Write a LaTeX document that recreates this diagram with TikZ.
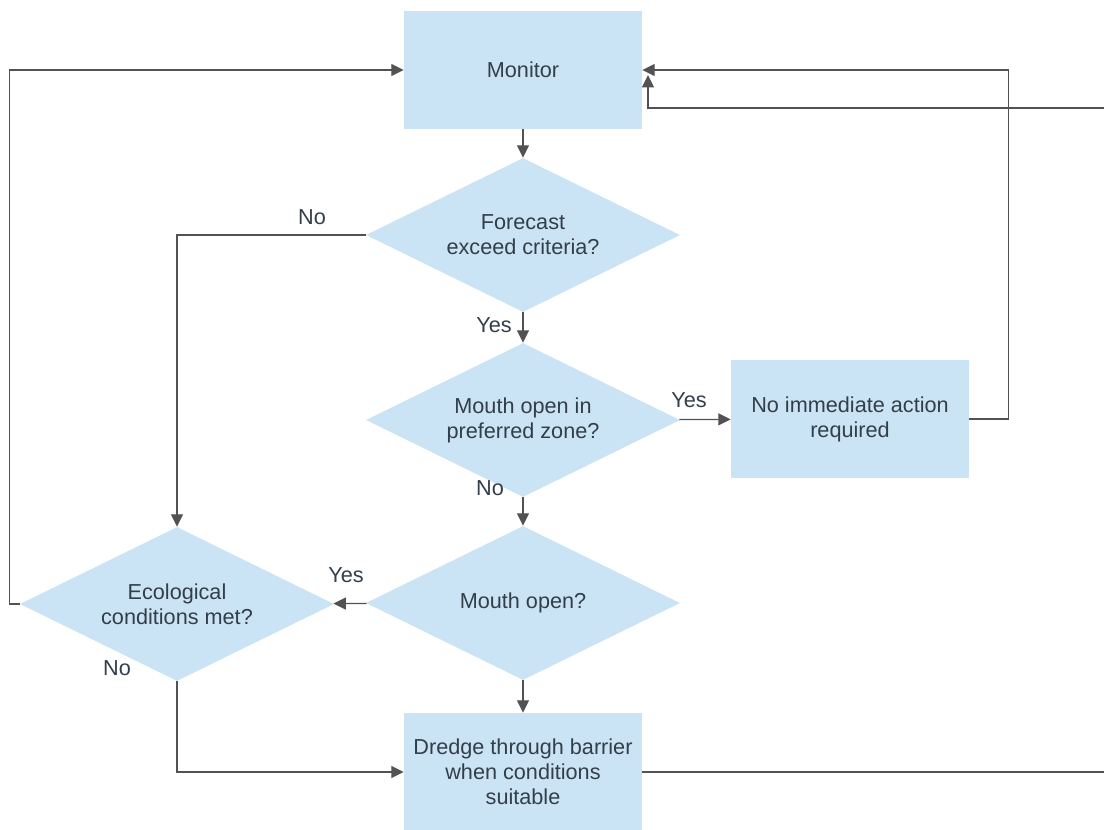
\documentclass[tikz,border=0pt]{standalone}
\usepackage{fontspec}
\setmainfont{Liberation Sans}
\usetikzlibrary{shapes.geometric,arrows.meta}

\definecolor{boxblue}{RGB}{203,228,245}
\definecolor{inkgrey}{RGB}{82,82,82}
\definecolor{txtgrey}{RGB}{50,62,74}

\tikzset{
  every node/.style={font=\fontsize{15.4}{17.8}\selectfont, text=txtgrey},
  stepbox/.style={fill=boxblue, minimum width=5.95cm, minimum height=2.95cm, inner sep=0pt, align=center},
  ask/.style={diamond, aspect=2, fill=boxblue, minimum width=7.85cm, minimum height=3.85cm, inner sep=0pt, align=center},
  flow/.style={draw=inkgrey, line width=0.9pt, -{Triangle[length=3.1mm,width=3mm]}}
}

\begin{document}
\begin{tikzpicture}[x=0.025cm, y=-0.025cm]
      \useasboundingbox (0,0) rectangle (1104,829);
      \clip (0,0) rectangle (1104,829);
      % boxes and decisions
      \draw
        (523,70) node[stepbox] (mon){Monitor}
        (523,235) node[ask] (fc){Forecast\\exceed criteria?}
        (523,420) node[ask] (pref){Mouth open in\\preferred zone?}
        (850,419) node[stepbox] (noact){No immediate action\\required}
        (523,603) node[ask] (mo){Mouth open?}
        (177,604) node[ask] (eco){Ecological\\conditions met?}
        (523,772) node[stepbox] (dredge){Dredge through barrier\\when conditions\\suitable};
      % answers
      \draw
        (312,217) node (no1){No}
        (494,325) node (yes1){Yes}
        (689,400) node (yes2){Yes}
        (490,488) node (no2){No}
        (346,575) node (yes3){Yes}
        (117,668) node (no3){No};
      \coordinate (rimtop) at (1112,108);
      \coordinate (backin) at (648,75);
      \begin{scope}[flow]
        \draw (mon) to (fc);
        \draw (fc.west) -| (eco.north);
        \draw (fc) to (pref);
        \draw (pref) to (noact);
        \draw (pref) to (mo);
        \draw (mo) to (eco);
        \draw (mo) to (dredge);
        \draw (eco.west) -- ++(-10,0) |- (mon.west);
        \draw (eco.south) |- (dredge.west);
        \draw (noact.east) -- ++(39,0) |- (mon.east);
        \draw (dredge.east) -| (rimtop) -| (backin);
      \end{scope}
    \end{tikzpicture}
\end{document}
